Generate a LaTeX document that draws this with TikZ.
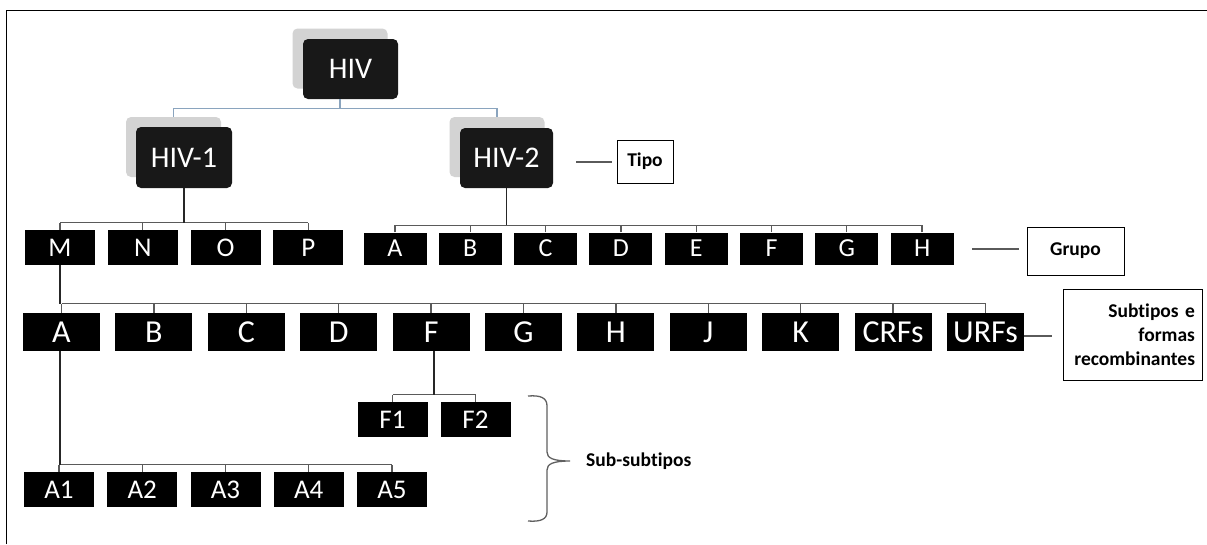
\documentclass[tikz,border=0pt]{standalone}
\usepackage{fontspec}
\setmainfont{Carlito}[Ligatures={NoCommon}]
\definecolor{hivblack}{HTML}{181818}
\definecolor{shadowgray}{HTML}{D3D3D3}
\definecolor{topline}{HTML}{8AA4BE}
\definecolor{barcol}{HTML}{5A5A5A}
\definecolor{bracecol}{HTML}{606060}
\tikzset{
  hivbox/.style={fill=hivblack, rounded corners=5pt, minimum width=95pt, minimum height=60pt,
    inner sep=0pt, text=white, font=\fontsize{30}{32}\selectfont, text height=19pt, text depth=0pt},
  hivshadow/.style={fill=shadowgray, rounded corners=5pt, minimum width=95pt, minimum height=60pt, inner sep=0pt},
  leafbox/.style={fill=black, inner sep=0pt, text=white, text depth=0pt},
  grpone/.style={leafbox, minimum width=70pt, minimum height=35pt, font=\fontsize{27}{29}\selectfont, text height=17pt},
  grptwo/.style={leafbox, minimum width=63pt, minimum height=32pt, font=\fontsize{26}{28}\selectfont, text height=16.5pt},
  subbox/.style={leafbox, minimum width=77pt, minimum height=38pt, font=\fontsize{32}{34}\selectfont, text height=20pt},
  subsubbox/.style={leafbox, minimum width=70pt, minimum height=35pt, font=\fontsize{27}{29}\selectfont, text height=17pt},
  labelbox/.style={draw=black, line width=1pt, inner sep=0pt, font=\bfseries\fontsize{19.5}{24}\selectfont},
  hivlink/.style={draw=topline, line width=1.1pt},
  drop/.style={draw=black!85, line width=1.8pt},
  bar/.style={draw=barcol, line width=1.3pt},
  pointer/.style={draw=barcol, line width=1.3pt},
}
\begin{document}
\begin{tikzpicture}[x=1pt,y=-1pt]
\useasboundingbox (0,0) rectangle (1207,544);
% outer frame (top and left edges)
\draw[line width=1.8pt] (6.5,544) -- (6.5,10.5) -- (1207,10.5);

% shadows behind the type boxes
\node[hivshadow] (hivsh)  at (340,58.5) {};
\node[hivshadow] (hiv1sh) at (173.5,147) {};
\node[hivshadow] (hiv2sh) at (497,147) {};

% type boxes
\node[hivbox] (hiv)  at (350.5,69) {HIV};
\node[hivbox, minimum width=96pt, minimum height=61pt] (hiv1) at (184,157.5) {HIV-1};
\node[hivbox, minimum width=93pt] (hiv2) at (506.5,158) {HIV-2};

% HIV-1 groups
\foreach \n/\t [count=\i from 0] in {gM/M,gN/N,gO/O,gP/P}
  \node[grpone] (\n) at (60+82.8*\i,247.5) {\t};

% HIV-2 groups
\foreach \n/\t [count=\i from 0] in {hA/A,hB/B,hC/C,hD/D,hE/E,hF/F,hG/G,hH/H}
  \node[grptwo] (\n) at (395+75.3*\i,248.5) {\t};

% subtypes and recombinant forms
\foreach \n/\t [count=\i from 0] in {sA/A,sB/B,sC/C,sD/D,sF/F,sG/G,sH/H,sJ/J,sK/K,sCRF/CRFs,sURF/URFs}
  \node[subbox] (\n) at (61.5+92.4*\i,332) {\t};

% sub-subtypes
\node[subsubbox] (f1) at (392.5,419.5) {F1};
\node[subsubbox] (f2) at (475.5,419.5) {F2};
\foreach \n/\t [count=\i from 0] in {a1/A1,a2/A2,a3/A3,a4/A4,a5/A5}
  \node[subsubbox] (\n) at (59+83.25*\i,489.5) {\t};

% HIV -> HIV-1 / HIV-2
\path (hivsh.center |- hiv.south) ++(0,9) coordinate (j0);
\draw[hivlink] (hivsh.center |- hiv.south) -- (j0);
\draw[hivlink] (hiv1sh.north) |- (j0) -| (hiv2sh.north);

% HIV-1 -> groups
\path (gM.north) ++(0,-7) coordinate (j1);
\draw[bar] (gM.north |- j1) -- (gP.north |- j1);
\foreach \n in {gM,gN,gO,gP} \draw[bar] (\n.north) -- (\n.north |- j1);
\draw[drop] (hiv1.south) -- (hiv1.south |- j1);

% HIV-2 -> groups
\path (hA.north) ++(0,-7) coordinate (j2);
\draw[bar] (hA.north |- j2) -- (hH.north |- j2);
\foreach \n in {hA,hB,hC,hD,hE,hF,hG,hH} \draw[bar] (\n.north) -- (\n.north |- j2);
\draw[drop] (hiv2.south) -- (hiv2.south |- j2);

% group M -> subtypes
\path (sA.north) ++(0,-9) coordinate (j3);
\draw[bar] (sA.north |- j3) -- (sURF.north |- j3);
\foreach \n in {sA,sB,sC,sD,sF,sG,sH,sJ,sK,sCRF,sURF} \draw[bar] (\n.north) -- (\n.north |- j3);
\draw[drop] (gM.south) -- (gM.south |- j3);

% subtype F -> F1, F2
\path (f1.north) ++(0,-7) coordinate (j4);
\draw[bar] (f1.north |- j4) -- (f2.north |- j4);
\foreach \n in {f1,f2} \draw[bar] (\n.north) -- (\n.north |- j4);
\draw[drop] ([xshift=2.5pt]sF.south) -- ([xshift=2.5pt]sF.south |- j4);

% subtype A -> A1..A5
\path (a1.north) ++(0,-7) coordinate (j5);
\draw[bar] (a1.north |- j5) -- (a5.north |- j5);
\foreach \n in {a1,a2,a3,a4,a5} \draw[bar] (\n.north) -- (\n.north |- j5);
\draw[drop] ([xshift=-1.5pt]sA.south) -- ([xshift=-1.5pt]sA.south |- j5);

% level labels
\node[labelbox, minimum width=56pt, minimum height=43pt] (tipo) at (645,161.5) {Tipo};
\node[labelbox, minimum width=97pt, minimum height=48pt] (grupo) at (1075.5,251) {Grupo};
\node[labelbox, minimum width=139pt, minimum height=91pt, align=right, text width=125pt]
  (subt) at (1132.5,334.5) {Subtipos e\\formas\\recombinantes};
\node[anchor=west, inner sep=0pt, font=\bfseries\fontsize{19.5}{24}\selectfont] (subsub) at (586,461) {Sub-subtipos};

% pointers from rows to their labels
\coordinate (ptipo) at (576,162);
\draw[pointer] ([xshift=-5pt]tipo.west |- ptipo) -- (ptipo);
\coordinate (pgrupo) at (972,249);
\draw[pointer] ([xshift=-8pt]grupo.west |- pgrupo) -- (pgrupo);
\draw[pointer] ([yshift=-4pt]sURF.east) -- ([yshift=-4pt,xshift=28pt]sURF.east);

% brace grouping the sub-subtypes
\draw[draw=bracecol, line width=1.3pt]
  (528,396) .. controls (541,395) and (547,398) .. (547,406) -- (547,452)
  .. controls (547,458) and (553,461) .. (570,461)
  .. controls (553,461) and (547,464) .. (547,470) -- (547,512)
  .. controls (547,519) and (541,522) .. (528,521);
\end{tikzpicture}
\end{document}
